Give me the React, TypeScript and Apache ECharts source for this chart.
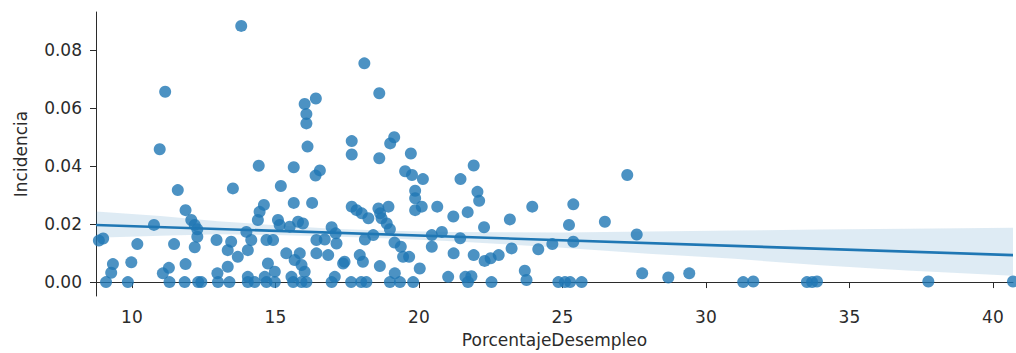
import React, { useEffect, useRef } from "react";
import * as echarts from "echarts";

// Unemployment percentage (x) vs incidence (y), one dot per observation
const desempleo: number[] = [
  8.85, 9.0, 9.1, 9.28, 9.34, 9.86, 9.98, 10.19,
  10.77, 10.97, 11.16, 11.08, 11.29, 11.31, 11.47, 11.6, 11.84, 11.87, 11.87, 12.07,
  12.19, 12.28, 12.28, 12.19, 12.31, 12.42, 12.95, 12.98, 13.0,
  13.81, 13.52, 14.42, 15.19, 15.64, 15.64, 16.28, 16.12, 16.02, 16.41, 16.08, 16.08,
  16.4, 16.55,
  14.6, 14.45, 14.39, 15.09, 15.15, 15.79, 15.96, 15.5, 16.96, 13.99, 13.46, 14.16,
  14.69, 14.92, 16.43, 16.72, 17.13, 13.34, 14.04, 15.38, 15.85, 16.43, 16.84, 13.69,
  14.74, 15.67, 15.91, 13.34, 16.02, 14.98, 17.36, 14.04, 14.63, 15.56, 17.07, 17.1,
  13.4, 14.04, 14.28, 14.69, 14.98, 15.62, 15.91, 16.08, 16.96,
  18.1, 18.62, 17.66, 17.66, 19.14, 19.0, 19.72, 18.62, 19.52, 19.76, 20.14, 21.45, 21.91,
  19.87, 19.87, 19.87, 20.1, 20.64, 21.2, 21.7, 22.04, 22.1,
  17.66, 17.83, 18.01, 18.24, 18.59, 18.65, 18.94, 18.7, 18.88, 18.99,
  18.12, 18.41, 19.15, 19.37, 19.45, 19.66,
  20.45, 20.45, 20.8, 21.21, 21.44, 21.91,
  17.41, 17.94, 18.05, 18.64, 20.03, 19.16, 21.02, 21.62, 21.83, 21.71,
  17.64, 17.99, 18.17, 18.99, 19.34, 19.8,
  23.95, 25.38, 23.17, 22.27, 25.23, 23.23, 24.16, 24.65, 25.38, 22.29, 22.5, 22.78,
  23.69, 23.75, 22.53, 24.86, 25.09, 25.27, 25.67,
  26.48, 27.26, 27.59, 27.78, 28.69, 29.42, 31.3, 31.65, 33.52, 33.7, 33.87, 37.75, 40.7,
];

const incidencia: number[] = [
  0.0143, 0.015, 0.0, 0.0032, 0.0062, 0.0, 0.0068, 0.0131,
  0.0197, 0.0458, 0.0656, 0.003, 0.0049, 0.0, 0.0131, 0.0317, 0.0, 0.0062, 0.0248, 0.0214,
  0.0197, 0.0182, 0.0156, 0.012, 0.0, 0.0, 0.0145, 0.003, 0.0,
  0.0883, 0.0323, 0.0401, 0.0331, 0.0396, 0.0273, 0.0273, 0.0467, 0.0614, 0.0633, 0.0579, 0.0547,
  0.0367, 0.0385,
  0.0266, 0.0242, 0.0214, 0.0214, 0.0197, 0.0208, 0.0202, 0.0191, 0.0189, 0.0173, 0.0139, 0.0145,
  0.0145, 0.0145, 0.0145, 0.0147, 0.0133, 0.011, 0.011, 0.0099, 0.0099, 0.0099, 0.0093, 0.0087,
  0.0064, 0.0076, 0.0059, 0.0053, 0.0036, 0.0036, 0.0064, 0.0018, 0.0018, 0.0018, 0.0018, 0.0168,
  0.0, 0.0, 0.0, 0.0, 0.0, 0.0, 0.0, 0.0, 0.0,
  0.0754, 0.0651, 0.0486, 0.044, 0.0499, 0.0478, 0.0443, 0.0427, 0.0382, 0.0369, 0.0355, 0.0355, 0.0402,
  0.0315, 0.0289, 0.0248, 0.026, 0.026, 0.0226, 0.0241, 0.0311, 0.028,
  0.026, 0.0248, 0.0237, 0.022, 0.0254, 0.0237, 0.026, 0.022, 0.0202, 0.0182,
  0.0147, 0.0162, 0.0136, 0.0122, 0.0087, 0.0087,
  0.0122, 0.0162, 0.0173, 0.0099, 0.0151, 0.0093,
  0.007, 0.0093, 0.007, 0.0055, 0.0047, 0.003, 0.0018, 0.0018, 0.002, 0.0,
  0.0, 0.0, 0.0, 0.0, 0.0, 0.0,
  0.026, 0.0268, 0.0216, 0.0189, 0.0197, 0.0116, 0.0113, 0.0131, 0.0139, 0.0073, 0.0082, 0.0093,
  0.0039, 0.0007, 0.0, 0.0, 0.0, 0.0, 0.0,
  0.0208, 0.0369, 0.0164, 0.003, 0.0016, 0.003, 0.0, 0.0002, 0.0, 0.0, 0.0002, 0.0002, 0.0002,
];

// Fitted regression line endpoints
const fitX: number[] = [8.75, 40.7];
const fitY: number[] = [0.0197, 0.0093];

// 95% confidence band of the fit
const bandX: number[] = [8.75, 11, 13, 15, 17, 19, 21, 23, 25, 28, 31, 34, 37, 40.7];
const bandLo: number[] = [0.0153, 0.016, 0.0165, 0.0162, 0.0157, 0.015, 0.0142, 0.013, 0.0118, 0.0098, 0.008, 0.0058, 0.004, 0.0022];
const bandHi: number[] = [0.0243, 0.0228, 0.021, 0.0196, 0.0184, 0.0177, 0.0173, 0.0172, 0.0171, 0.0174, 0.0178, 0.0181, 0.0184, 0.0187];

const xTicks: number[] = [10, 15, 20, 25, 30, 35, 40];
const yTicks: number[] = [0, 0.02, 0.04, 0.06, 0.08];

const BLUE = "#1f77b4";
const INK = "#2b2b2b";
const FONT = "DejaVu Sans";

export default function App() {
  const ref = useRef<HTMLDivElement>(null);

  useEffect(() => {
    if (!ref.current) return;
    const chart = echarts.init(ref.current, undefined, { renderer: "svg" });

    const axisCommon = {
      axisLine: { show: true, lineStyle: { color: INK, width: 1 } },
      axisTick: { show: true, inside: false, length: 6, lineStyle: { color: INK, width: 1 } },
      splitLine: { show: false },
      nameLocation: "middle" as const,
      nameTextStyle: { color: INK, fontFamily: FONT, fontSize: 17 },
    };

    chart.setOption({
      animation: false,
      grid: { left: 96, right: 3, top: 12, bottom: 57 },
      xAxis: {
        ...axisCommon,
        type: "value",
        min: 8.75,
        max: 40.7,
        name: "PorcentajeDesempleo",
        nameGap: 35,
        axisTick: { ...axisCommon.axisTick, customValues: xTicks },
        axisLabel: {
          customValues: xTicks,
          color: INK,
          fontFamily: FONT,
          fontSize: 17,
          margin: 12,
          formatter: (v: number) => String(v),
        },
      },
      yAxis: {
        ...axisCommon,
        type: "value",
        min: -0.0048,
        max: 0.0931,
        name: "Incidencia",
        nameGap: 67,
        axisTick: { ...axisCommon.axisTick, customValues: yTicks },
        axisLabel: {
          customValues: yTicks,
          color: INK,
          fontFamily: FONT,
          fontSize: 17,
          margin: 14,
          formatter: (v: number) => v.toFixed(2),
        },
      },
      series: [
        {
          type: "scatter",
          z: 1,
          symbolSize: 12,
          itemStyle: { color: BLUE, opacity: 0.8 },
          data: desempleo.map((x, i) => [x, incidencia[i]]),
          silent: true,
        },
        {
          type: "custom",
          z: 2,
          silent: true,
          encode: { x: 0, y: [1, 2] },
          data: bandX.map((x, i) => [x, bandLo[i], bandHi[i]]),
          renderItem: (params: any, api: any) => {
            if (params.dataIndex !== 0) return null;
            const upper = bandX.map((x, i) => api.coord([x, bandHi[i]]));
            const lower = bandX.map((x, i) => api.coord([x, bandLo[i]])).reverse();
            return {
              type: "polygon",
              shape: { points: upper.concat(lower) },
              style: { fill: "rgba(31,119,180,0.15)" },
            };
          },
        },
        {
          type: "line",
          z: 3,
          silent: true,
          symbol: "none",
          lineStyle: { color: BLUE, width: 2.6 },
          data: fitX.map((x, i) => [x, fitY[i]]),
        },
      ],
    });

    return () => chart.dispose();
  }, []);

  return (
    <div
      ref={ref}
      style={{ position: "fixed", left: 0, top: 0, width: 1016, height: 353, background: "#fff" }}
    />
  );
}
